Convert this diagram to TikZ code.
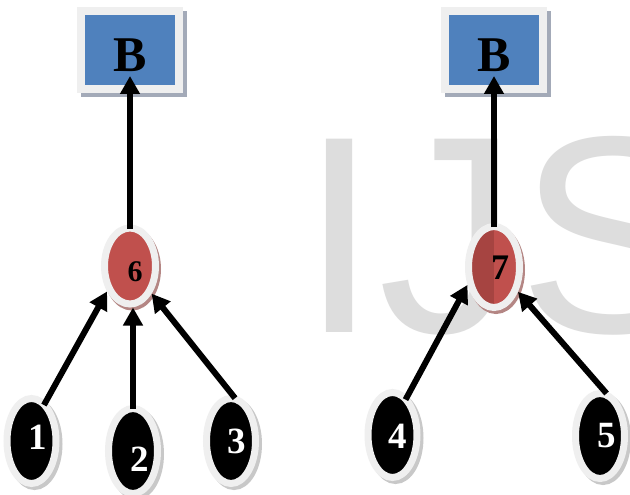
\documentclass[tikz,border=0pt]{standalone}
\usepackage{fontspec}
\setmainfont{Liberation Serif}
\newfontfamily\wmfont{Liberation Sans}
\usetikzlibrary{shapes.geometric,shadows,arrows.meta}
\definecolor{boxblue}{HTML}{4F81BD}
\definecolor{rim}{HTML}{EFEFEF}
\definecolor{boxshadow}{HTML}{A3AAB8}
\definecolor{nodered}{HTML}{C0504D}
\definecolor{nodereddark}{HTML}{A64441}
\definecolor{redshadow}{HTML}{B48684}
\definecolor{ballshadow}{HTML}{C8C8C8}
\definecolor{wmgray}{HTML}{DDDDDD}
\tikzset{
 rootbox/.style={rectangle, fill=boxblue, draw=rim, line width=8pt, minimum width=98pt, minimum height=78pt, inner sep=0pt,
   drop shadow={shadow xshift=4pt, shadow yshift=-4pt, fill=boxshadow, draw=boxshadow, line width=8pt, opacity=1}},
 midnode/.style={ellipse, fill=nodered, draw=rim, line width=7pt, minimum width=51pt, minimum height=76pt, inner sep=0pt,
   drop shadow={shadow xshift=2pt, shadow yshift=-3pt, fill=redshadow, draw=redshadow, line width=7pt, opacity=1}},
 leafnode/.style={ellipse, fill=black, draw=rim, line width=7pt, minimum width=49pt, minimum height=85pt, inner sep=0pt,
   drop shadow={shadow xshift=3pt, shadow yshift=-3pt, fill=ballshadow, draw=ballshadow, line width=7pt, opacity=1}},
 leaflabel/.style={text=white, font=\bfseries\fontsize{37pt}{37pt}\selectfont, inner sep=0pt},
 midlabel/.style={text=black, font=\bfseries\fontsize{30pt}{30pt}\selectfont, inner sep=0pt},
 rootlabel/.style={text=black, font=\bfseries\fontsize{50pt}{50pt}\selectfont, inner sep=0pt},
 link/.style={draw=black, line width=6pt, -{Triangle[length=18pt,width=19pt]}, shorten <=-4pt},
}
\begin{document}
\begin{tikzpicture}[x=1pt,y=-1pt]
\useasboundingbox (0,0) rectangle (630,495);
\fill[white] (0,0) rectangle (630,495);
% watermark
\begin{scope}
\clip (0,0) rectangle (630,495);
\node[anchor=base west, inner sep=0pt, text=wmgray, font=\wmfont\fontsize{281pt}{281pt}\selectfont] (wm) at (300,332) {IJS};
\end{scope}
% root boxes
\node[rootbox] (b1) at (130,50) {};
\node[rootbox] (b2) at (494,50) {};
% middle nodes
\node[midnode] (n6) at (130,266) {};
\node[midnode, minimum height=81pt,
  path picture={\fill[nodereddark] (path picture bounding box.south west) rectangle (path picture bounding box.north);}] (n7) at (494,267) {};
% leaves
\node[leafnode] (n1) at (31.5,441) {};
\node[leafnode] (n2) at (133,451) {};
\node[leafnode] (n3) at (231,441) {};
\node[leafnode] (n4) at (392.5,435) {};
\node[leafnode] (n5) at (600,436) {};
% connectors
\draw[link, shorten >=-17pt] (n6) -- (b1);
\draw[link, shorten >=-17pt] (n7) -- (b2);
\draw[link] (n1.70) -- (n6.228);
\draw[link] (n2.north) -- (n2.north |- n6.south);
\draw[link] (n3.88) -- (n6.-52);
\draw[link] (n4.69) -- (n7.214);
\draw[link] (n5.85) -- (n7.-46);
% labels
\node[rootlabel] (lb1) at (130,55) {B};
\node[rootlabel] (lb2) at (494,55) {B};
\node[midlabel] (l6) at (135,272) {6};
\node[midlabel, font=\bfseries\fontsize{36pt}{36pt}\selectfont] (l7) at (500,267.5) {7};
\node[leaflabel] (l1) at (37.5,437.5) {1};
\node[leaflabel] (l2) at (140,459) {2};
\node[leaflabel] (l3) at (237,441) {3};
\node[leaflabel] (l4) at (398,436) {4};
\node[leaflabel] (l5) at (607,436) {5};
\end{tikzpicture}
\end{document}
